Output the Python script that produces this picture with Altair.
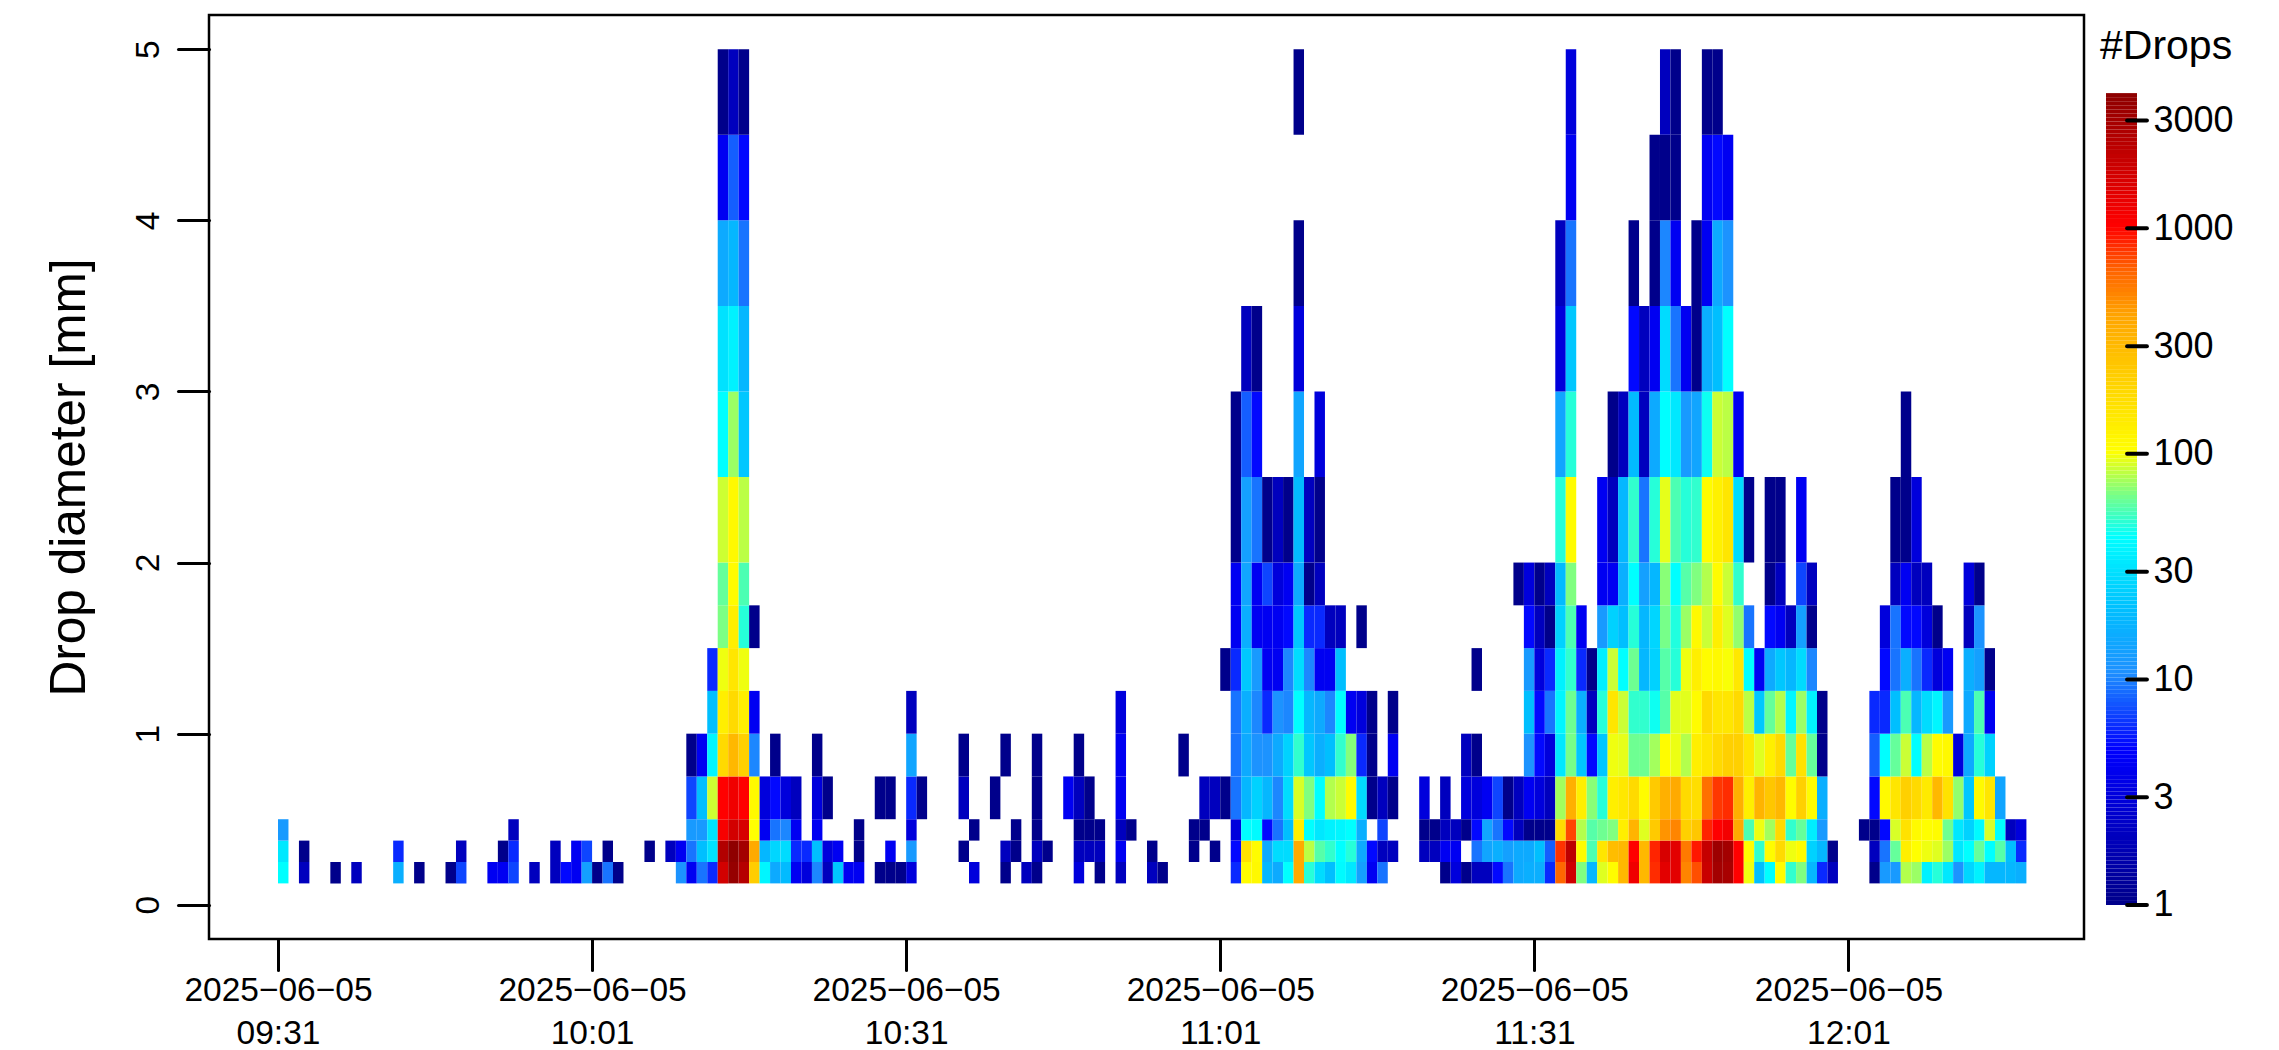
import json
import altair as alt
import numpy as np
import pandas as pd

FONT = "Liberation Sans"

# Diameter class edges (mm)
edges = [0.125, 0.25, 0.375, 0.5, 0.75, 1.0, 1.25, 1.5, 1.75, 2.0, 2.5, 3.0, 3.5, 4.0, 4.5, 5.0]

# Drop counts per diameter class, keyed by minutes after 09:31
r00 = {0:42,2:2,5:1,7:2,11:16,13:1,16:1,17:7,20:4,21:4,22:7,24:2,26:2,27:5,28:4,29:13,30:1,31:9,32:1,38:11,39:4,40:9,41:6,42:1700,43:3500,44:2400,45:220,46:38,47:15,48:19,49:4,50:3,51:10,52:2,53:22,54:4,55:4,57:1,58:1,59:1,60:3,66:3,69:1,71:2,72:1,76:3,78:1,80:2,83:2,84:1,91:6,92:105,93:110,94:18,95:15,96:42,97:370,98:48,99:28,100:20,101:40,102:32,103:13,104:4,105:9,111:1,112:3,113:1,114:2,115:2,116:5,117:9,118:15,119:16,120:16,121:6,122:620,123:1800,124:66,125:18,126:90,127:105,128:300,129:1200,130:300,131:820,132:1400,133:1400,134:500,135:700,136:1900,137:3000,138:2800,139:1000,140:95,141:20,142:42,143:105,144:50,145:66,146:18,147:6,148:2,152:1,153:12,154:12,155:78,156:72,157:36,158:48,159:32,160:11,161:26,162:36,163:18,164:18,165:18,166:16}
r01 = {0:32,2:1,11:6,17:2,21:1,22:6,26:2,28:4,29:7,31:1,35:1,37:2,38:4,39:9,40:20,41:30,42:2500,43:3800,44:3000,45:370,46:18,47:26,48:28,49:6,50:6,51:20,52:3,53:4,55:1,58:4,60:12,65:1,69:2,70:1,72:2,73:1,76:2,77:2,78:2,80:4,83:1,87:1,89:1,91:5,92:160,93:105,94:15,95:28,96:28,97:370,98:80,99:57,100:50,101:42,102:48,103:15,104:5,105:2,106:2,109:2,110:2,111:4,112:4,114:9,115:14,116:16,117:13,118:15,119:15,120:20,121:8,122:800,123:2200,124:105,125:55,126:150,127:280,128:300,129:1000,130:300,131:850,132:1600,133:1400,134:540,135:900,136:2000,137:3200,138:3000,139:1000,140:105,141:50,142:105,143:180,144:95,145:105,146:25,147:18,148:1,152:2,153:9,154:60,155:130,156:100,157:95,158:90,159:72,160:32,161:42,162:60,163:42,164:57,165:20,166:6}
r02 = {0:12,22:2,39:12,40:12,41:30,42:1100,43:1700,44:1600,45:100,46:4,47:9,48:10,49:4,51:4,55:1,60:3,66:1,70:1,72:1,76:1,77:1,78:1,80:2,81:1,87:1,88:1,91:3,92:42,93:40,94:5,95:9,96:20,97:130,98:42,99:32,100:36,101:38,102:42,103:16,105:7,109:1,110:1,111:2,112:2,113:1,114:5,115:14,116:9,117:5,118:2,119:1,120:1,121:1,122:180,123:730,124:78,125:57,126:62,127:66,128:130,129:320,130:90,131:230,132:450,133:500,134:210,135:240,136:850,137:1000,138:1150,139:370,140:55,141:95,142:74,143:180,144:50,145:60,146:34,147:12,151:1,152:1,153:5,154:88,155:160,156:108,157:102,158:105,159:62,160:32,161:25,162:40,163:88,164:42,165:2,166:3}
r03 = {39:7,40:20,41:85,42:1000,43:1200,44:1000,45:110,46:3,47:5,48:3,49:2,51:3,52:1,57:1,58:1,60:6,61:1,65:2,68:1,72:1,75:4,76:2,77:1,80:4,88:2,89:2,90:1,91:9,92:18,93:25,94:18,95:10,96:28,97:88,98:66,99:42,100:78,101:84,102:105,103:28,104:1,105:2,106:1,109:3,111:2,113:3,114:3,115:4,116:7,117:1,118:2,119:4,120:3,121:2,122:74,123:340,124:130,125:68,126:48,127:130,128:145,129:180,130:105,131:230,132:340,133:370,134:180,135:170,136:580,137:780,138:820,139:340,140:130,141:320,142:240,143:300,144:105,145:210,146:105,147:16,152:5,153:108,154:150,155:210,156:180,157:140,158:300,159:160,160:70,161:22,162:108,163:150,164:14}
r04 = {39:1,40:4,41:38,42:180,43:300,44:210,45:10,47:1,51:1,60:14,65:1,69:1,72:1,76:1,80:4,86:1,91:9,92:15,93:11,94:11,95:15,96:25,97:50,98:22,99:16,100:20,101:50,102:67,103:6,104:1,106:4,113:2,114:1,119:11,120:5,121:3,122:32,123:64,124:22,125:5,126:22,127:95,128:92,129:62,130:62,131:74,132:105,133:94,134:78,135:130,136:150,137:180,138:210,139:210,140:150,141:90,142:130,143:180,144:60,145:160,146:60,147:1,152:8,153:42,154:60,155:84,156:42,157:80,158:105,159:110,160:3,161:15,162:48,163:25}
r05 = {41:20,42:130,43:180,44:130,45:4,60:2,80:3,91:9,92:16,93:10,94:6,95:11,96:10,97:42,98:18,99:15,100:10,101:42,102:4,103:3,104:1,106:1,119:20,120:5,121:9,122:38,123:62,124:16,125:2,126:48,127:150,128:84,129:50,130:50,131:44,132:57,133:91,134:91,135:105,136:180,137:150,138:150,139:180,140:80,141:22,142:60,143:78,144:38,145:72,146:36,147:1,152:6,153:6,154:20,155:55,156:18,157:28,158:38,159:12,161:15,162:55,163:4}
r06 = {41:6,42:95,43:150,44:95,90:1,91:6,92:22,93:12,94:4,95:4,96:10,97:28,98:10,99:4,100:4,101:20,114:1,119:12,120:3,121:6,122:36,123:50,124:6,125:1,126:35,127:84,128:42,129:62,130:18,131:25,132:57,133:48,134:95,135:130,136:105,137:110,138:98,139:145,140:42,141:4,142:15,143:22,144:18,145:28,146:10,153:5,154:9,155:16,156:9,157:6,158:3,159:4,161:16,162:13,163:1}
r07 = {42:65,43:130,44:48,45:1,91:4,92:16,93:4,94:4,95:4,96:5,97:22,98:6,99:6,100:2,101:2,103:1,119:5,120:2,121:1,122:25,123:55,124:4,126:12,127:25,128:20,129:48,130:18,131:26,132:64,133:47,134:72,135:110,136:84,137:130,138:90,139:70,140:9,142:5,143:4,144:2,145:13,146:1,153:3,154:9,155:5,156:5,157:3,158:1,161:2,162:11}
r08 = {42:60,43:105,44:55,91:4,92:14,93:4,94:7,95:3,96:4,97:15,98:1,99:2,118:1,119:3,120:1,121:2,122:19,123:66,126:4,127:4,128:16,129:42,130:13,131:18,132:68,133:42,134:57,135:66,136:78,137:105,138:84,139:50,142:1,143:2,145:7,146:2,154:2,155:4,156:2,157:2,161:3,162:1}
r09 = {42:85,43:110,44:80,91:1,92:13,93:9,94:1,95:2,96:1,97:19,98:2,99:1,122:48,123:105,126:4,127:2,128:18,129:50,130:9,131:48,132:92,133:55,134:48,135:50,136:105,137:125,138:150,139:28,140:1,142:1,143:1,145:4,154:1,155:1,156:3}
r10 = {42:42,43:72,44:22,91:1,92:8,93:5,97:14,99:3,122:14,123:48,127:1,128:2,129:19,130:2,131:15,132:42,133:32,134:12,135:14,136:44,137:84,138:80,139:4,155:1}
r11 = {42:30,43:36,44:18,92:2,93:1,97:3,122:3,123:22,129:5,130:2,131:4,132:28,133:9,134:4,135:1,136:16,137:20,138:42}
r12 = {42:15,43:18,44:9,97:1,122:2,123:9,129:1,131:1,132:10,133:4,135:1,136:4,137:15,138:11}
r13 = {42:4,43:8,44:5,123:4,131:1,132:1,133:1,136:4,137:5,138:4}
r14 = {42:1,43:2,44:1,97:1,123:3,132:2,133:1,136:1,137:1}
rows = [r00, r01, r02, r03, r04, r05, r06, r07, r08, r09, r10, r11, r12, r13, r14]

# Axis ticks
tick_minutes = [0, 30, 60, 90, 120, 150]
tick_dates = ["2025\u221206\u221205"] * 6
tick_times = ["09:31", "10:01", "10:31", "11:01", "11:31", "12:01"]
y_ticks = [0, 1, 2, 3, 4, 5]
bar_ticks = [1, 3, 10, 30, 100, 300, 1000, 3000]

# Colour ramp
color_stops = [1, 4.8, 10.5, 20, 42, 66, 100, 190, 400, 650, 1000, 3970]
color_range = ["#00008B", "#0000FF", "#1E90FF", "#00BFFF", "#00FFFF", "#80FF80",
               "#FFFF00", "#FFD700", "#FFA500", "#FF6000", "#FF0000", "#8B0000"]
color_scale = alt.Scale(type="log", domain=color_stops, range=color_range, interpolate="rgb")

records = []
for i, row in enumerate(rows):
    for minute, count in row.items():
        records.append({"minute": minute, "minute_end": minute + 1,
                        "d0": edges[i], "d1": edges[i + 1], "count": count})
cells = pd.DataFrame(records)

label_expr = (
    f"[{json.dumps(tick_dates)}[indexof({json.dumps(tick_minutes)}, datum.value)], "
    f"{json.dumps(tick_times)}[indexof({json.dumps(tick_minutes)}, datum.value)]]"
)

main = alt.Chart(cells).mark_rect().encode(
    x=alt.X("minute:Q",
            scale=alt.Scale(domain=[-6.59, 172.5], nice=False, zero=False),
            axis=alt.Axis(values=tick_minutes, labelExpr=label_expr, title=None, grid=False,
                          domain=False, tickSize=31, tickWidth=3, tickCap="round", tickColor="black",
                          labelFont=FONT, labelFontSize=33.5, labelColor="black", labelPadding=4,
                          labelLineHeight=43, labelOverlap=False, labelFlush=False,
                          labelBound=False, labelAngle=0, labelLimit=500)),
    x2="minute_end:Q",
    y=alt.Y("d0:Q",
            scale=alt.Scale(domain=[-0.2, 5.2], nice=False, zero=False),
            axis=alt.Axis(values=y_ticks, title="Drop diameter [mm]", grid=False, domain=False,
                          tickSize=31, tickWidth=3, tickCap="round", tickColor="black", labelFont=FONT,
                          labelFontSize=33.5, labelColor="black", labelAngle=270,
                          labelAlign="center", labelBaseline="bottom", labelPadding=13,
                          titleFont=FONT, titleFontSize=49.6, titleFontWeight="normal",
                          titleColor="black", titlePadding=37)),
    y2="d1:Q",
    color=alt.Color("count:Q", scale=color_scale, legend=None),
).properties(width=1875, height=924, view=alt.ViewConfig(stroke="black", strokeWidth=2.5))

# Colour bar
bar_edges = np.logspace(0, np.log10(3970), 201)
bar_df = pd.DataFrame({"low": bar_edges[:-1], "high": bar_edges[1:], "x0": 0, "x1": 1})
bar_y = alt.Scale(type="log", domain=[0.7067, 8810], nice=False)
bar_x = alt.Scale(domain=[0, 1], nice=False, zero=False)

bar = alt.Chart(bar_df).mark_rect().encode(
    x=alt.X("x0:Q", scale=bar_x, axis=None),
    x2="x1:Q",
    y=alt.Y("low:Q", scale=bar_y,
            axis=alt.Axis(orient="right", values=bar_ticks, format="d", title=None, grid=False,
                          domain=False, ticks=False, labelFont=FONT, labelFontSize=36,
                          labelColor="black", labelPadding=16, labelOverlap=False,
                          labelFlush=False, labelBound=False)),
    y2="high:Q",
    color=alt.Color("low:Q", scale=color_scale, legend=None),
)

tick_df = pd.DataFrame({"v": bar_ticks, "a": 0.68, "b": 1.32})
bar_rules = alt.Chart(tick_df).mark_rule(color="black", strokeWidth=4, strokeCap="round", clip=False).encode(
    x=alt.X("a:Q", scale=bar_x, axis=None),
    x2="b:Q",
    y=alt.Y("v:Q", scale=bar_y),
)

bar_title = alt.Chart(pd.DataFrame({"t": ["#Drops"]})).mark_text(
    font=FONT, fontSize=41, align="left", baseline="middle", color="black"
).encode(text="t:N", x=alt.value(-6), y=alt.value(32))

colorbar = alt.layer(bar, bar_rules, bar_title).properties(width=31, height=924)

chart = alt.hconcat(main, colorbar, spacing=14).resolve_scale(color="shared").configure_view(
    stroke=None
).properties(padding={"left": 34, "top": 5, "right": 0, "bottom": 0})

chart.save("out.html", embed_options={"renderer": "svg", "actions": False})
